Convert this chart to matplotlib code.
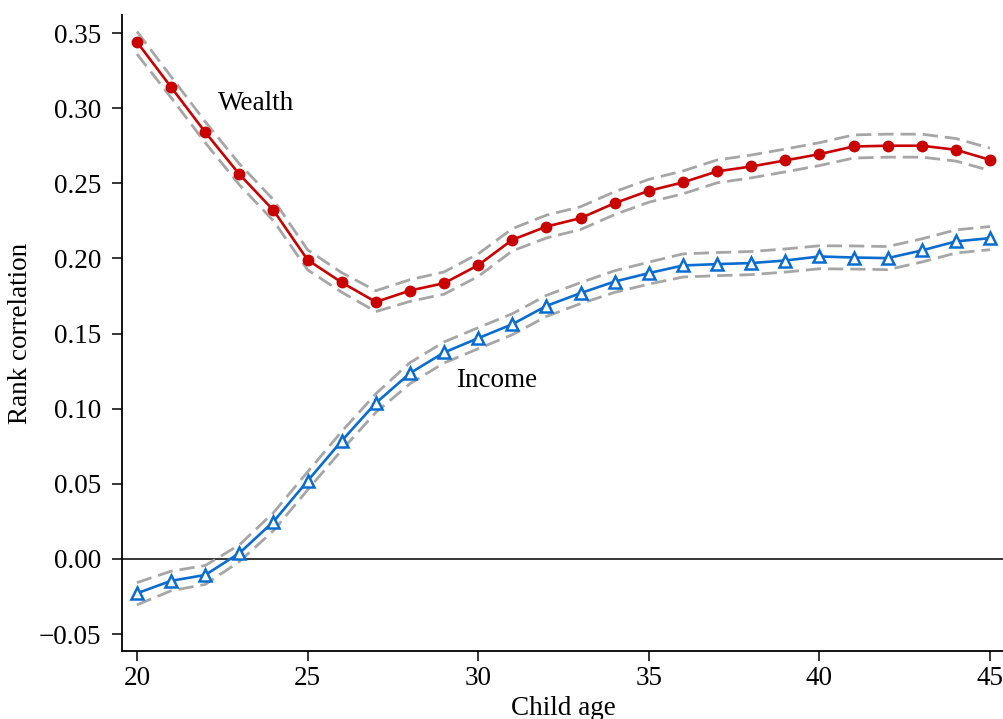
import numpy as np
import matplotlib
matplotlib.use("Agg")
import matplotlib.pyplot as plt

plt.rcParams['font.family'] = ['Liberation Serif', 'DejaVu Serif']

age = list(range(20, 46))

wealth = [0.344, 0.314, 0.284, 0.256, 0.232, 0.199, 0.184, 0.171, 0.1786, 0.1835,
          0.1955, 0.2124, 0.2212, 0.2268, 0.2368, 0.245, 0.2506, 0.2579, 0.2612, 0.2652,
          0.2694, 0.2745, 0.275, 0.275, 0.2723, 0.2656]
wealth_hi = [0.351, 0.321, 0.291, 0.263, 0.239, 0.2057, 0.1905, 0.1785, 0.1858, 0.191,
             0.203, 0.2198, 0.2288, 0.2344, 0.2444, 0.2526, 0.2582, 0.2655, 0.2688, 0.2728,
             0.277, 0.2822, 0.2827, 0.2827, 0.2798, 0.2734]
wealth_lo = [0.336, 0.307, 0.277, 0.249, 0.225, 0.1924, 0.1775, 0.1646, 0.1714, 0.1762,
             0.188, 0.205, 0.2136, 0.2192, 0.2292, 0.2374, 0.243, 0.2503, 0.2536, 0.2576,
             0.2618, 0.2668, 0.2674, 0.2674, 0.2648, 0.2585]

income = [-0.0229, -0.0146, -0.0107, 0.0038, 0.0248, 0.0519, 0.0786, 0.1037, 0.1236, 0.1374,
          0.1469, 0.1562, 0.1684, 0.1769, 0.1846, 0.1902, 0.1953, 0.1962, 0.1969, 0.1986,
          0.2013, 0.2006, 0.2002, 0.2053, 0.2113, 0.2135]
income_hi = [-0.0158, -0.0082, -0.0044, 0.0093, 0.0308, 0.0579, 0.0848, 0.1099, 0.1306, 0.1444,
             0.1539, 0.1632, 0.1754, 0.1839, 0.1918, 0.1975, 0.203, 0.2039, 0.2046, 0.2063,
             0.2084, 0.2083, 0.2079, 0.213, 0.219, 0.2212]
income_lo = [-0.0306, -0.0212, -0.017, -0.0018, 0.0188, 0.0459, 0.0724, 0.0975, 0.1166, 0.1304,
             0.1399, 0.1492, 0.1614, 0.1699, 0.1774, 0.1829, 0.1876, 0.1885, 0.1892, 0.1909,
             0.1931, 0.1929, 0.1925, 0.1976, 0.2036, 0.2058]

red = '#c80000'
blue = '#0a6ccf'
grey = '#a6a6a6'
fs = 19.5

fig = plt.figure(figsize=(10.04, 7.19), dpi=100)
ax = fig.add_axes([0.1215, 0.0946, 0.8785, 0.8845])

ax.axhline(0, color='black', lw=1.1, zorder=1)

dash = dict(color=grey, lw=2, dashes=(5.5, 2.5), zorder=2)
ax.plot(age, wealth_hi, **dash)
ax.plot(age, wealth_lo, **dash)
ax.plot(age, income_hi, **dash)
ax.plot(age, income_lo, **dash)

ax.plot(age, wealth, color=red, lw=1.9, marker='o', ms=7.5, zorder=3)
ax.plot(age, income, color=blue, lw=1.9, marker='^', ms=8.5, mfc='white',
        mec=blue, mew=1.8, zorder=3)

ax.text(22.37, 0.303, 'Wealth', fontsize=fs, va='center', ha='left')
ax.text(29.35, 0.1185, 'Income', fontsize=fs, va='center', ha='left')

ax.set_xlim(19.56, 45.41)
ax.set_ylim(-0.0613, 0.362)
ax.set_xticks([20, 25, 30, 35, 40, 45])
ax.set_yticks(np.arange(-0.05, 0.351, 0.05))
ax.yaxis.set_major_formatter(matplotlib.ticker.FuncFormatter(
    lambda v, p: ('\u2212%.2f' % abs(v)) if v < -1e-9 else '%.2f' % abs(v)))

for s in ['top', 'right']:
    ax.spines[s].set_visible(False)
for s in ['left', 'bottom']:
    ax.spines[s].set_linewidth(1.3)
ax.tick_params(direction='out', length=7, width=1.1, labelsize=fs)
ax.tick_params(axis='y', pad=8)
ax.set_xlabel('Child age', fontsize=fs, labelpad=4)
ax.set_ylabel('Rank correlation', fontsize=fs, labelpad=4)

fig.savefig('out.png', dpi=100)
